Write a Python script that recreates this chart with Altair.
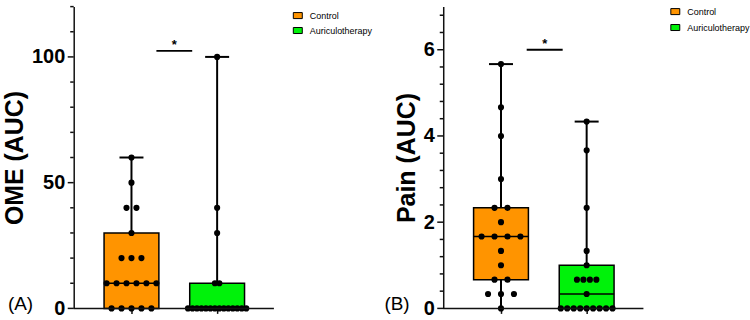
import numpy as np
import pandas as pd
import altair as alt

# ---- data -------------------------------------------------------------
GROUPS = ["Control", "Auriculotherapy"]
COLORS = ["#FF9400", "#00F20A"]
POSITIONS = [1, 2]

ome_control = [0, 0, 0, 0, 0, 10, 10, 10, 10, 10, 10, 20, 20, 20, 30, 40, 40, 50, 60]
ome_auriculo = [0, 0, 0, 0, 0, 0, 0, 0, 0, 0, 0, 0, 0, 0, 10, 10, 30, 40, 100]

pain_control = [0, 1/3, 1/3, 1/3, 2/3, 2/3, 1, 4/3, 5/3, 5/3, 5/3, 5/3, 2,
                7/3, 7/3, 3, 4, 14/3, 17/3]
pain_auriculo = [0, 0, 0, 0, 0, 0, 0, 0, 0, 1/3, 2/3, 2/3, 2/3, 2/3, 1, 4/3,
                 7/3, 11/3, 13/3]

OME_MAJOR = [0, 50, 100]
OME_MINOR = [v for v in range(0, 121, 10) if v not in OME_MAJOR]
PAIN_MAJOR = [0, 2, 4, 6]
PAIN_MINOR = [round(i * 0.4, 1) for i in range(18) if i % 5 != 0]

# ---- geometry helpers -------------------------------------------------
FONT = "Liberation Sans"
PX = 86.0                    # pixels per group step
X_MIN = 1 - 58 / PX          # left end of the group axis
X_AXIS_END = X_MIN + 201 / PX
BOX_HALF = 0.32
CAP_HALF = 0.14
H = 303
RECT_PATH = "M-1,-0.67H1V0.67H-1Z"


def swarm(values, pos, spacing_px):
    rows = []
    s = pd.Series(values)
    for v, k in s.value_counts(sort=False).items():
        for i in range(k):
            rows.append({"pos": pos + (i - (k - 1) / 2) * spacing_px / PX, "v": v})
    return rows


def panel(series, spacings, y_title, y_max, major, minor, sig, tag, tag_x,
          width, leg_x, leg_y, leg_row):
    x_max = X_MIN + width / PX
    stats, dots = [], []
    for g, p, vals, sp in zip(GROUPS, POSITIONS, series, spacings):
        a = np.array(vals, dtype=float)
        q1, med, q3 = np.percentile(a, [25, 50, 75], method="weibull")
        stats.append({"group": g, "pos": p, "q1": q1, "med": med, "q3": q3,
                      "lo": a.min(), "hi": a.max(),
                      "left": p - BOX_HALF, "right": p + BOX_HALF,
                      "capl": p - CAP_HALF, "capr": p + CAP_HALF})
        dots += swarm(vals, p, sp)
    stats = pd.DataFrame(stats)
    dots = pd.DataFrame(dots)

    xscale = alt.Scale(domain=[X_MIN, x_max], nice=False, zero=False)
    xaxis = alt.Axis(values=POSITIONS, labels=False, domain=False, grid=False,
                     title=None, tickSize=5, tickColor="#111", tickWidth=1.5)
    yscale = alt.Scale(domain=[0, y_max], nice=False, zero=True)
    yaxis = alt.Axis(values=major, title=y_title, grid=False, ticks=False,
                     format=".0f",
                     titleFont=FONT, titleFontSize=25, titleFontWeight="bold",
                     titleColor="black", titlePadding=4,
                     labelFont=FONT, labelFontSize=20, labelFontWeight="bold",
                     labelColor="black", labelPadding=9,
                     domainColor="#111", domainWidth=1.5)

    def X(f):
        return alt.X(f"{f}:Q", scale=xscale, axis=xaxis)

    def Y(f):
        return alt.Y(f"{f}:Q", scale=yscale, axis=yaxis)

    base = alt.Chart(stats)
    whisker = base.mark_rule(color="black", strokeWidth=2).encode(
        x=X("pos"), y=Y("lo"), y2="hi")
    caps = base.mark_rule(color="black", strokeWidth=2).encode(
        x=X("capl"), x2="capr", y=Y("hi"))
    box = base.mark_bar(stroke="black", strokeWidth=1.5, opacity=1).encode(
        x=X("left"), x2="right", y=Y("q1"), y2="q3",
        color=alt.Color("group:N",
                        scale=alt.Scale(domain=GROUPS, range=COLORS),
                        legend=alt.Legend(orient="none", legendX=leg_x,
                                          legendY=leg_y, title=None,
                                          symbolType=RECT_PATH, symbolSize=81,
                                          symbolStrokeColor="black",
                                          symbolStrokeWidth=1,
                                          symbolOpacity=1,
                                          labelFont=FONT, labelFontSize=9,
                                          labelColor="black", labelOffset=7,
                                          rowPadding=leg_row, padding=0)))
    median = base.mark_rule(color="black", strokeWidth=1.5).encode(
        x=X("left"), x2="right", y=Y("med"))
    points = alt.Chart(dots).mark_circle(size=38, color="black", opacity=1).encode(
        x=X("pos"), y=Y("v"))

    baseline_df = pd.DataFrame([{"x0": X_MIN, "x1": X_AXIS_END, "y": 0}])
    baseline = alt.Chart(baseline_df).mark_rule(color="#111", strokeWidth=1.5).encode(
        x=X("x0"), x2="x1", y=Y("y"))

    # y-axis tick marks: long at labelled values, short in between
    major_ticks = alt.Chart(pd.DataFrame({"t": major})).mark_rule(
        color="#111", strokeWidth=1.5).encode(
        x=alt.value(-6), x2=alt.value(0), y=Y("t"))
    minor_ticks = alt.Chart(pd.DataFrame({"t": minor})).mark_rule(
        color="#111", strokeWidth=1.5).encode(
        x=alt.value(-3.5), x2=alt.value(0), y=Y("t"))

    sig_df = pd.DataFrame([sig])
    sig_bar = alt.Chart(sig_df).mark_rule(color="black", strokeWidth=2).encode(
        x=X("x0"), x2="x1", y=Y("y"))
    sig_star = alt.Chart(sig_df).mark_text(
        font=FONT, fontSize=13, fontWeight="bold", dy=-6, color="black"
    ).encode(x=X("xm"), y=Y("y"), text="txt:N")

    tag_df = pd.DataFrame([{"t": tag}])
    tag_txt = alt.Chart(tag_df).mark_text(
        font=FONT, fontSize=19, align="left", baseline="middle", color="black"
    ).encode(x=alt.value(tag_x), y=alt.value(H - 4), text="t:N")

    return alt.layer(whisker, box, median, caps, points, baseline,
                     major_ticks, minor_ticks,
                     sig_bar, sig_star, tag_txt).properties(width=width, height=H)


ome = panel([ome_control, ome_auriculo], [10, 4.5], "OME (AUC)", 120,
            OME_MAJOR, OME_MINOR,
            {"x0": 1.291, "x1": 1.709, "xm": 1.5, "y": 102.4, "txt": "*"},
            "(A)", -66, 296, 220, 4, 3)
pain = panel([pain_control, pain_auriculo], [13, 6.5], "Pain (AUC)", 7,
             PAIN_MAJOR, PAIN_MINOR,
             {"x0": 1.30, "x1": 1.72, "xm": 1.51, "y": 6.0, "txt": "*"},
             "(B)", -59, 305, 228, 0, 4)

chart = alt.hconcat(ome, pain, spacing=12).resolve_scale(
    color="independent", x="independent", y="independent"
).resolve_legend(color="independent").properties(
    padding={"left": 2, "top": 5, "right": 0, "bottom": 0},
    background="white",
).configure_view(stroke=None)

chart.save("out.html", embed_options={"renderer": "svg", "actions": False})
